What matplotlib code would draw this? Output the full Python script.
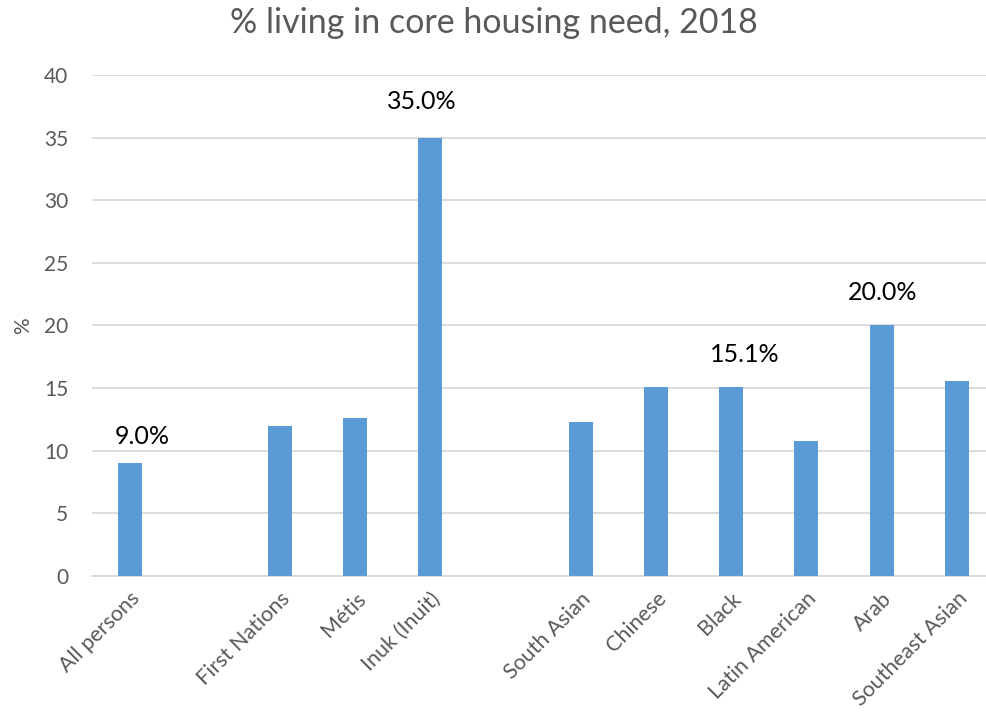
import matplotlib
matplotlib.use("Agg")
import matplotlib.pyplot as plt

# groups are separated by one empty slot on the x axis
groups = [
    ["All persons"],
    ["First Nations", "Métis", "Inuk (Inuit)"],
    ["South Asian", "Chinese", "Black", "Latin American", "Arab", "Southeast Asian"],
]
values = [9.0, 12.0, 12.6, 35.0, 12.3, 15.1, 15.1, 10.8, 20.0, 15.6]
labelled = ["All persons", "Inuk (Inuit)", "Black", "Arab"]

# hand-placed label nudges (points): x shift, height above bar
label_nudge = {
    "All persons": (9, 19),
    "Inuk (Inuit)": (-6, 26),
    "Black": (10, 23),
    "Arab": (1, 24),
}

BAR_COLOR = "#5b9bd5"
GRID_COLOR = "#d9d9d9"
TEXT_GRAY = "#595959"

plt.rcParams["font.family"] = ["Lato", "DejaVu Sans"]

categories = []
positions = []
slot = 0
for g in groups:
    for name in g:
        categories.append(name)
        positions.append(slot)
        slot += 1
    slot += 1  # gap between groups
n_slots = slot - 1

fig = plt.figure(figsize=(9.87, 7.2), dpi=100)
ax = fig.add_axes([92 / 987, 0.2, (n_slots * 75.2) / 987, 0.696])

ax.bar(positions, values, width=0.32, color=BAR_COLOR, zorder=3)

for x, name, v in zip(positions, categories, values):
    if name in labelled:
        dx, dy = label_nudge[name]
        ax.annotate(f"{v:.1f}%", (x, v), xytext=(dx, dy), textcoords="offset points",
                    ha="center", va="center", fontsize=18, color="black")

ax.set_xlim(-0.5, n_slots - 0.5)
ax.set_ylim(0, 40)
ax.set_yticks(range(0, 41, 5))
ax.grid(axis="y", color=GRID_COLOR, linewidth=1.3, zorder=0)
for s in ["top", "right", "left"]:
    ax.spines[s].set_visible(False)
ax.spines["bottom"].set_color(GRID_COLOR)
ax.spines["bottom"].set_linewidth(1.3)
ax.tick_params(axis="both", length=0, colors=TEXT_GRAY, labelsize=15)
ax.tick_params(axis="y", pad=17)

ax.set_xticks(positions)
ax.set_xticklabels(categories, rotation=45, ha="right", rotation_mode="anchor", fontsize=15.5)
ax.tick_params(axis="x", pad=9)

ax.set_ylabel("%", color=TEXT_GRAY, fontsize=15, labelpad=8)
fig.suptitle("% living in core housing need, 2018", color=TEXT_GRAY, fontsize=24.5, y=0.99)

fig.savefig("out.png", dpi=100)
